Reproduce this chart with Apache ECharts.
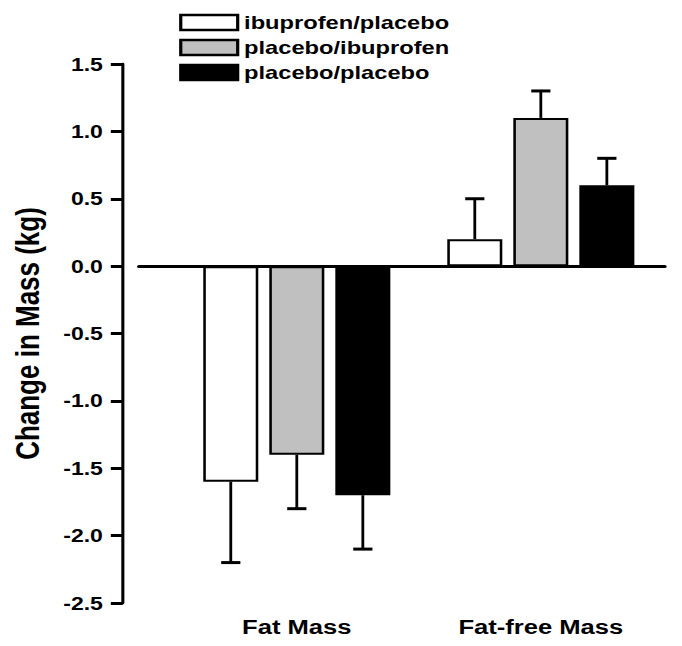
<!DOCTYPE html>
<html><head><meta charset="utf-8">
<script src="https://cdn.jsdelivr.net/npm/echarts@6/dist/echarts.min.js"></script>
<style>
html,body{margin:0;padding:0;background:#fff;overflow:hidden}
#wrap{width:682px;height:646px;overflow:hidden}
#c{width:533px;height:646px;transform:scaleX(1.2796);transform-origin:0 0}
</style>
</head><body><div id="wrap"><div id="c"></div></div>
<script>
const categories = ['Fat Mass', 'Fat-free Mass'];
const seriesNames = ['ibuprofen/placebo', 'placebo/ibuprofen', 'placebo/placebo'];
const ibuprofenPlacebo = [-1.6, 0.2];
const placeboIbuprofen = [-1.4, 1.1];
const placeboPlacebo = [-1.7, 0.6];
const errIbuprofenPlacebo = [0.6, 0.3];
const errPlaceboIbuprofen = [0.4, 0.2];
const errPlaceboPlacebo = [0.4, 0.2];
const yTicks = [-2.5, -2.0, -1.5, -1.0, -0.5, 0.0, 0.5, 1.0, 1.5];

const colors = ['#ffffff', '#c0c0c0', '#000000'];
const values = [ibuprofenPlacebo, placeboIbuprofen, placeboPlacebo];
const errs = [errIbuprofenPlacebo, errPlaceboIbuprofen, errPlaceboPlacebo];
const BAR_W = 43, GAP = 8.6;
const font = 'Liberation Sans, Arial, sans-serif';

const chart = echarts.init(document.getElementById('c'), null, {renderer: 'svg'});
const series = [];
values.forEach((v, i) => {
  series.push({
    name: seriesNames[i], type: 'bar', data: v, barWidth: BAR_W, barGap: '20%',
    itemStyle: {color: colors[i], borderColor: '#000', borderWidth: 2},
    xAxisIndex: 0, yAxisIndex: 0, z: 2
  });
});
values.forEach((v, i) => {
  series.push({
    type: 'custom', xAxisIndex: 0, yAxisIndex: 0, z: 3, silent: true,
    data: v.map((val, j) => [j, val, val < 0 ? val - errs[i][j] : val + errs[i][j]]),
    renderItem: function (params, api) {
      const x = api.value(0);
      const p0 = api.coord([x, api.value(1)]);
      const p1 = api.coord([x, api.value(2)]);
      const cx = p0[0] + (i - 1) * (BAR_W + GAP);
      const cap = 7.5;
      return {type: 'group', children: [
        {type: 'line', shape: {x1: cx, y1: p0[1], x2: cx, y2: p1[1]}, style: {stroke: '#000', lineWidth: 2.2}},
        {type: 'line', shape: {x1: cx - cap, y1: p1[1], x2: cx + cap, y2: p1[1]}, style: {stroke: '#000', lineWidth: 3}}
      ]};
    }
  });
});
series.push({type: 'line', xAxisIndex: 1, yAxisIndex: 1, data: [], silent: true});

chart.setOption({
  animation: false,
  backgroundColor: '#fff',
  legend: {
    data: seriesNames, orient: 'vertical', left: 135, top: 8,
    icon: 'rect', itemWidth: 44.5, itemHeight: 15, itemGap: 6,
    itemStyle: {borderColor: '#000', borderWidth: 2.5},
    textStyle: {fontFamily: font, fontWeight: 'bold', fontSize: 18.5, lineHeight: 19, color: '#000'},
    selectedMode: false
  },
  grid: [
    {left: 132, right: 15, top: 64, bottom: 43},
    {left: 108.6, right: 13.5, top: 64, bottom: 43}
  ],
  xAxis: [
    {type: 'category', data: categories, gridIndex: 0,
     axisLine: {show: false}, axisTick: {show: false},
     axisLabel: {margin: 14, fontFamily: font, fontWeight: 'bold', fontSize: 20, color: '#000'}},
    {type: 'value', gridIndex: 1, min: 0, max: 1, show: true,
     axisLine: {show: true, onZero: true, lineStyle: {color: '#000', width: 3}},
     axisTick: {show: false}, axisLabel: {show: false}, splitLine: {show: false}}
  ],
  yAxis: [
    {type: 'value', gridIndex: 0, min: yTicks[0], max: yTicks[yTicks.length - 1], interval: 0.5,
     offset: 40.6,
     name: 'Change in Mass (kg)', nameLocation: 'middle', nameGap: 62,
     nameTextStyle: {fontFamily: font, fontWeight: 'bold', fontSize: 26, color: '#000'},
     axisLine: {show: true, lineStyle: {color: '#000', width: 2.4}},
     axisTick: {show: true, length: 9.4, lineStyle: {color: '#000', width: 3}},
     axisLabel: {margin: 15.6, fontFamily: font, fontWeight: 'bold', fontSize: 18, color: '#000',
       formatter: v => v.toFixed(1)},
     splitLine: {show: false}},
    {type: 'value', gridIndex: 1, min: yTicks[0], max: yTicks[yTicks.length - 1], show: false}
  ],
  series: series
});
</script></body></html>
